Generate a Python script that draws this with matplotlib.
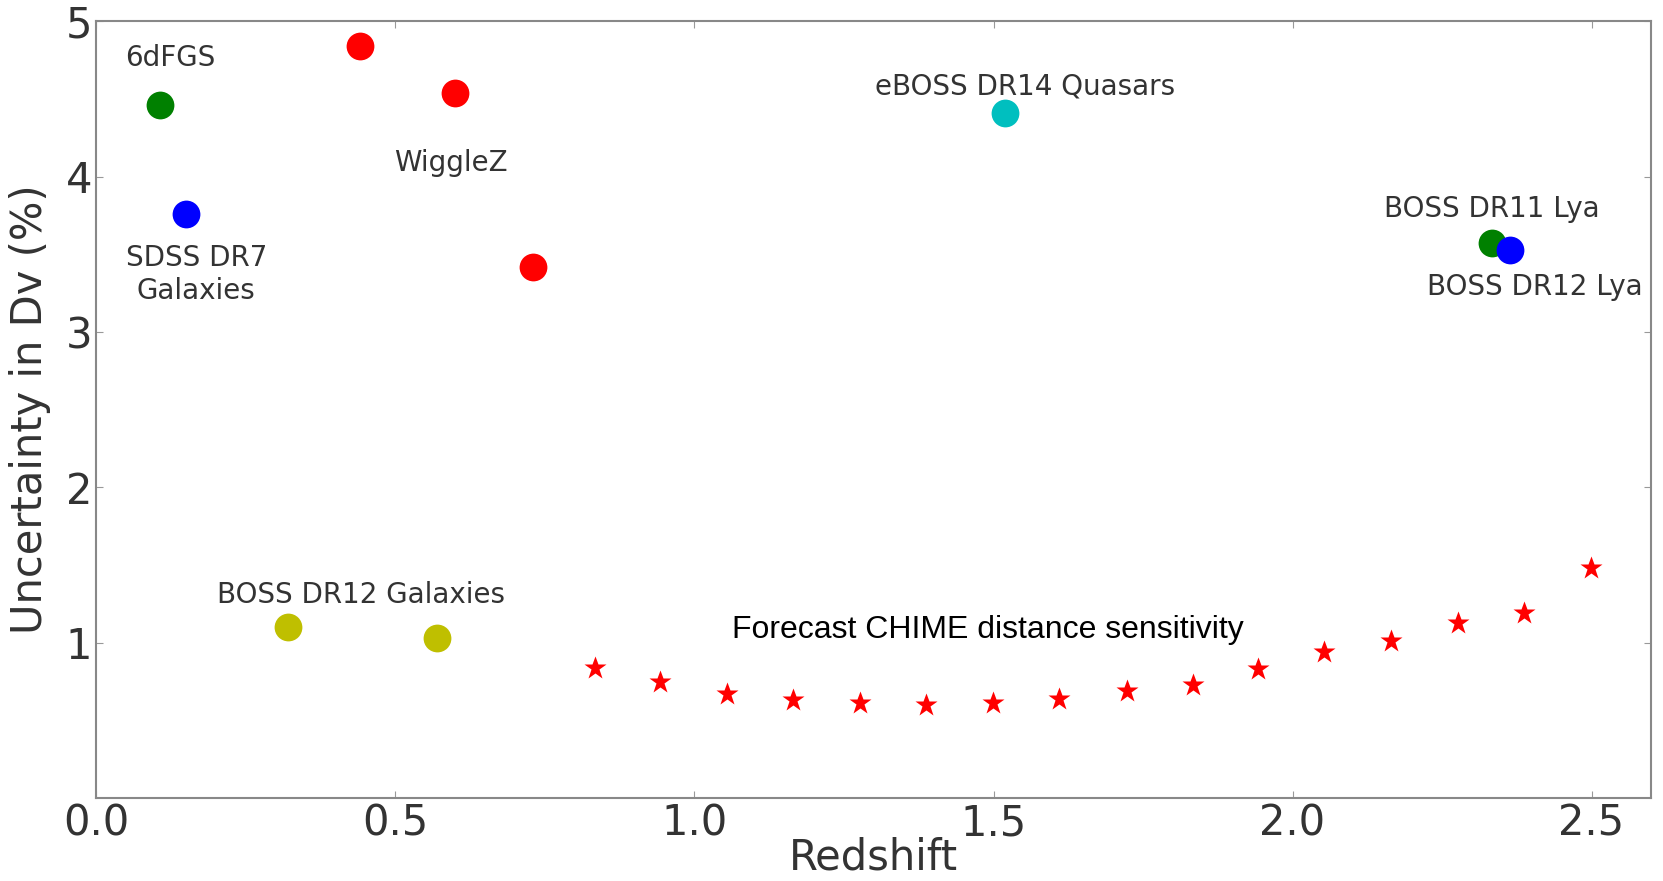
import numpy as np
import matplotlib
matplotlib.use('Agg')
import matplotlib.pyplot as plt

# measured BAO surveys
sixdf_z, sixdf_err = [0.106], [4.46]
sdss_z, sdss_err = [0.15], [3.76]
wigglez_z = [0.44, 0.60, 0.73]
wigglez_err = [4.84, 4.54, 3.42]
eboss_z, eboss_err = [1.52], [4.41]
lya11_z, lya11_err = [2.334], [3.57]
lya12_z, lya12_err = [2.364], [3.53]
boss_gal_z = [0.32, 0.57]
boss_gal_err = [1.10, 1.03]

# CHIME forecast
chime_z = [0.833, 0.943, 1.055, 1.165, 1.277, 1.387, 1.499, 1.609,
           1.723, 1.833, 1.943, 2.053, 2.165, 2.277, 2.387, 2.499]
chime_err = [0.84, 0.75, 0.67, 0.63, 0.61, 0.60, 0.61, 0.64,
             0.69, 0.73, 0.83, 0.94, 1.01, 1.13, 1.19, 1.48]

fig = plt.figure(figsize=(16.63, 8.81), dpi=100)
ax = fig.add_axes([0.058, 0.094, 0.935, 0.882])

ms = 20
ax.plot(sixdf_z, sixdf_err, 'o', color='g', ms=ms, mec='none')
ax.plot(sdss_z, sdss_err, 'o', color='b', ms=ms, mec='none')
ax.plot(wigglez_z, wigglez_err, 'o', color='r', ms=ms, mec='none')
ax.plot(eboss_z, eboss_err, 'o', color='c', ms=ms, mec='none')
ax.plot(lya11_z, lya11_err, 'o', color='g', ms=ms, mec='none')
ax.plot(lya12_z, lya12_err, 'o', color='b', ms=ms, mec='none')
ax.plot(boss_gal_z, boss_gal_err, 'o', color='y', ms=ms, mec='none')
ax.plot(chime_z, chime_err, '*', color='r', ms=17, mec='none')

lc = '#333333'
fs = 20
ax.text(0.123, 4.76, '6dFGS', color=lc, fontsize=fs, ha='center', va='center')
ax.text(0.167, 3.37, 'SDSS DR7\nGalaxies', color=lc, fontsize=fs, ha='center',
        va='center', linespacing=1.2)
ax.text(0.593, 4.09, 'WiggleZ', color=lc, fontsize=fs, ha='center', va='center')
ax.text(1.552, 4.58, 'eBOSS DR14 Quasars', color=lc, fontsize=fs, ha='center', va='center')
ax.text(2.334, 3.79, 'BOSS DR11 Lya', color=lc, fontsize=fs, ha='center', va='center')
ax.text(2.405, 3.29, 'BOSS DR12 Lya', color=lc, fontsize=fs, ha='center', va='center')
ax.text(0.442, 1.31, 'BOSS DR12 Galaxies', color=lc, fontsize=fs, ha='center', va='center')
ax.text(1.49, 1.08, 'Forecast CHIME distance sensitivity', color='black', fontsize=23,
        family='Liberation Sans', ha='center', va='center')

ax.set_xlim(0, 2.6)
ax.set_ylim(0, 5)
ax.set_xticks([0.0, 0.5, 1.0, 1.5, 2.0, 2.5])
ax.set_yticks([1, 2, 3, 4, 5])
ax.tick_params(direction='in', length=5, colors='#999999', labelcolor=lc,
               labelsize=30, top=True, right=True, pad=3)
for s in ax.spines.values():
    s.set_color('#888888')
    s.set_linewidth(1.5)
ax.set_xlabel('Redshift', fontsize=30, color=lc)
ax.set_ylabel('Uncertainty in Dv (%)', fontsize=30, color=lc)
ax.xaxis.set_label_coords(0.5, -0.049)
ax.yaxis.set_label_coords(-0.029, 0.5)

fig.savefig('out.png', dpi=100)
